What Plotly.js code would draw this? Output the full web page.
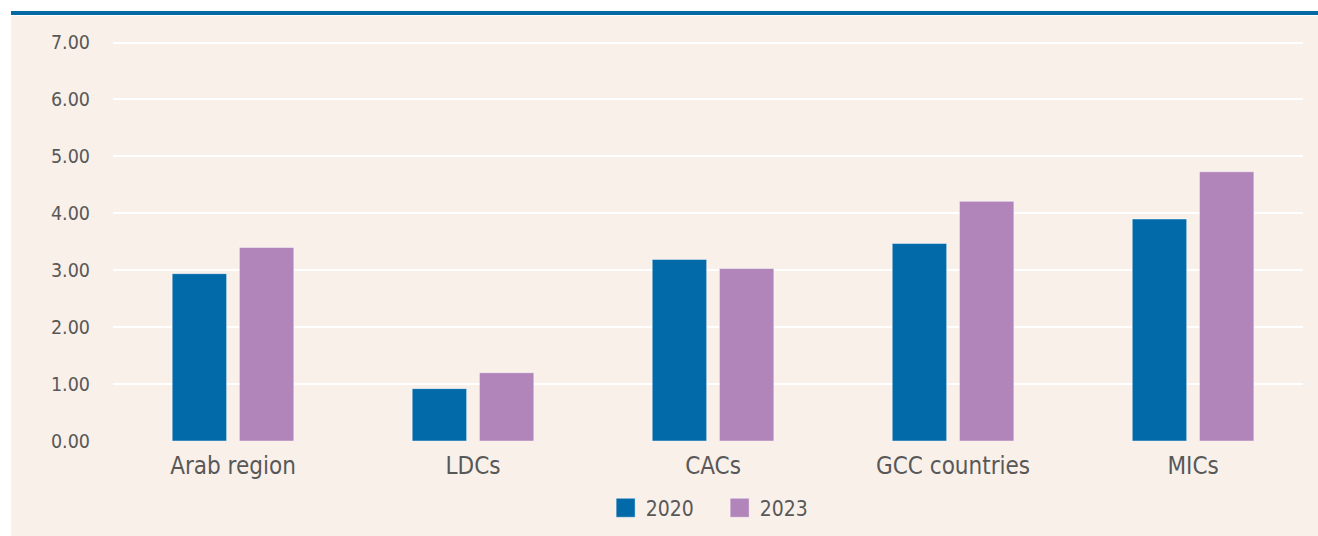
<!DOCTYPE html>
<html>
<head>
<meta charset="utf-8">
<script src="https://cdn.plot.ly/plotly-3.0.1.min.js"></script>
<style>
html,body{margin:0;padding:0;background:#ffffff;}
#chart{width:1318px;height:536px;}
</style>
</head>
<body>
<div id="chart"></div>
<script>
const categories = ["Arab region", "LDCs", "CACs", "GCC countries", "MICs"];
const seriesNames = ["2020", "2023"];
const values2020 = [2.94, 0.92, 3.19, 3.47, 3.90];
const values2023 = [3.40, 1.20, 3.03, 4.21, 4.73];
const yTickVals = [0, 1, 2, 3, 4, 5, 6, 7];
const yTickText = ["0.00", "1.00", "2.00", "3.00", "4.00", "5.00", "6.00", "7.00"];

const FONT = "'DejaVu Sans Condensed', 'Liberation Sans Narrow', 'Arial Narrow', sans-serif";
const TXT = "#585858";
const BEIGE = "#F9F0EA";

const traces = [
  {type: "bar", name: seriesNames[0], x: categories, y: values2020,
   marker: {color: "#036AA9", line: {color: "rgba(255,255,255,0.45)", width: 1}}},
  {type: "bar", name: seriesNames[1], x: categories, y: values2023,
   marker: {color: "#B184BA", line: {color: "rgba(255,255,255,0.45)", width: 1}}}
];

const layout = {
  width: 1318, height: 536,
  margin: {l: 113, r: 15, t: 38.1, b: 94.5, pad: 0, autoexpand: false},
  paper_bgcolor: "#ffffff",
  plot_bgcolor: BEIGE,
  barmode: "group",
  bargap: 0.44,
  bargroupgap: 0.19,
  showlegend: true,
  legend: {orientation: "h", xref: "container", yref: "container",
           x: 0.546, xanchor: "center", y: 0.052, yanchor: "middle",
           entrywidth: 69, entrywidthmode: "pixels",
           font: {family: FONT, size: 21, color: TXT}, bgcolor: "rgba(0,0,0,0)"},
  font: {family: FONT, color: TXT},
  xaxis: {
    type: "category", range: [-0.5, 4.458], showgrid: false, zeroline: false, showline: false,
    ticks: "", tickfont: {family: FONT, size: 24, color: TXT}, ticklabelstandoff: 8
  },
  yaxis: {
    range: [0, 7.08], tickvals: yTickVals, ticktext: yTickText,
    showgrid: true, gridcolor: "#ffffff", gridwidth: 2,
    zeroline: true, zerolinecolor: BEIGE, zerolinewidth: 3, showline: false,
    ticks: "", tickfont: {family: FONT, size: 19.5, color: TXT}, ticklabelstandoff: 22
  },
  shapes: [
    {type: "rect", xref: "paper", yref: "paper", x0: -0.0857, x1: 1.02, y0: -0.25, y1: 1.0548,
     fillcolor: BEIGE, line: {width: 0}, layer: "below"},
    {type: "rect", xref: "paper", yref: "paper", x0: -0.0857, x1: 1.02, y0: 1.0573, y1: 1.0672,
     fillcolor: "#0569A6", line: {width: 0}, layer: "below"}
  ]
};

Plotly.newPlot("chart", traces, layout, {displayModeBar: false, staticPlot: true}).then(function(){
  document.querySelectorAll(".legend .legendpoints path").forEach(function(p){
    p.setAttribute("d", "M9.5,9.5H-9.5V-9.5H9.5Z");
  });
});
</script>
</body>
</html>
